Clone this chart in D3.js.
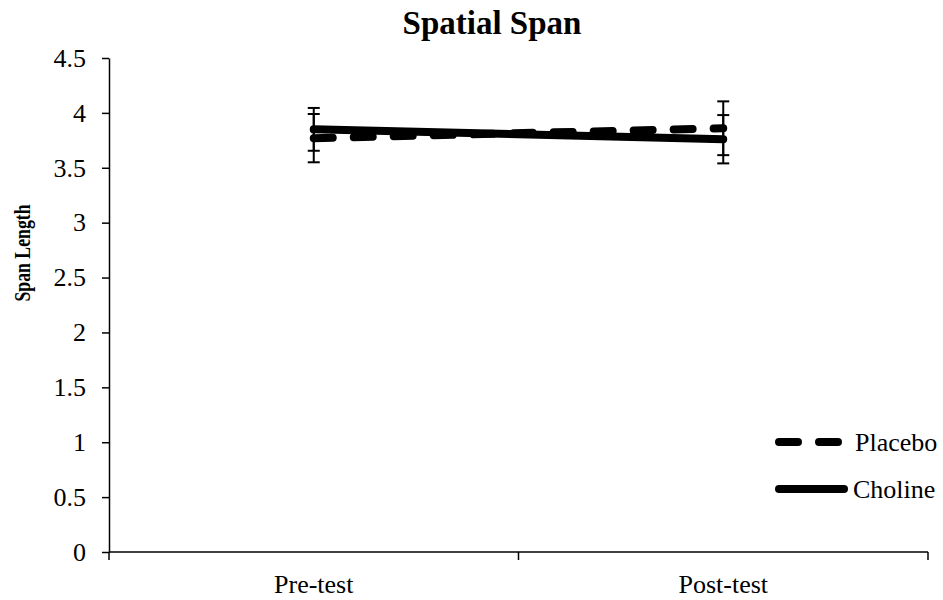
<!DOCTYPE html>
<html>
<head>
<meta charset="utf-8">
<script src="https://cdn.jsdelivr.net/npm/d3@7"></script>
<style>
  html, body { margin: 0; padding: 0; background: #fff; }
  svg { display: block; }
  svg text { font-family: "Liberation Serif", "Times New Roman", Times, serif !important; fill: #000; }
</style>
</head>
<body>
<svg id="chart" width="943" height="600"></svg>
<script>
// Spatial span means (± error) by session and group
const sessions = ["Pre-test", "Post-test"];
const placeboMeans = [3.77, 3.86];
const placeboErr = [0.22, 0.245];
const cholineMeans = [3.85, 3.76];
const cholineErr = [0.195, 0.22];
const yTicks = [0, 0.5, 1, 1.5, 2, 2.5, 3, 3.5, 4, 4.5];

const series = [
  { name: "Placebo", means: placeboMeans, err: placeboErr, dashed: true },
  { name: "Choline", means: cholineMeans, err: cholineErr, dashed: false }
];

const svg = d3.select("#chart");
const plotLeft = 109, plotRight = 928, plotTop = 58, plotBottom = 552;

const y = d3.scaleLinear().domain([0, 4.5]).range([plotBottom, plotTop]);
const xBand = d3.scaleBand().domain(sessions).range([plotLeft, plotRight]);
const x = d3.scalePoint().domain(sessions).range([plotLeft, plotRight]).padding(0.5);

// Title
svg.append("text")
  .attr("x", 492).attr("y", 34)
  .attr("text-anchor", "middle")
  .attr("font-size", 33).attr("font-weight", "bold")
  .text("Spatial Span");

// Y axis
const yAxis = svg.append("g")
  .attr("transform", `translate(${plotLeft},0)`)
  .call(d3.axisLeft(y).tickValues(yTicks).tickFormat(d3.format("")).tickSize(7).tickSizeOuter(0).tickPadding(16));
yAxis.attr("font-family", null).attr("font-size", null);
yAxis.select(".domain").attr("stroke", "#000").attr("stroke-width", 1.5);
yAxis.selectAll(".tick line").attr("stroke", "#000").attr("stroke-width", 1.5);
yAxis.selectAll(".tick text").attr("font-size", 26).attr("fill", "#000");

// Y axis title (set condensed)
svg.append("text")
  .attr("transform", "translate(30,253) rotate(-90)")
  .attr("text-anchor", "middle")
  .attr("font-size", 24).attr("font-weight", "bold")
  .attr("textLength", 97).attr("lengthAdjust", "spacingAndGlyphs")
  .text("Span Length");

// X axis: baseline, category boundary ticks and centred labels
const xg = svg.append("g");
xg.append("line")
  .attr("x1", plotLeft).attr("x2", plotRight)
  .attr("y1", y(0)).attr("y2", y(0))
  .attr("stroke", "#000").attr("stroke-width", 1.5);
const boundaries = sessions.map(s => xBand(s)).concat([xBand.range()[1]]);
xg.selectAll("line.bound").data(boundaries).join("line")
  .attr("class", "bound")
  .attr("x1", d => d).attr("x2", d => d)
  .attr("y1", y(0)).attr("y2", y(0) + 8)
  .attr("stroke", "#000").attr("stroke-width", 1.5);
xg.selectAll("text").data(sessions).join("text")
  .attr("x", d => x(d)).attr("y", 593)
  .attr("text-anchor", "middle")
  .attr("font-size", 26)
  .text(d => d);

// Lines
const line = d3.line().x((d, i) => x(sessions[i])).y(d => y(d));
svg.selectAll("path.series").data(series).join("path")
  .attr("class", "series")
  .attr("d", d => line(d.means))
  .attr("fill", "none")
  .attr("stroke", "#000")
  .attr("stroke-width", 8)
  .attr("stroke-linecap", "round")
  .attr("stroke-dasharray", d => d.dashed ? "19 21" : null);

// Error bars
series.forEach(s => {
  const g = svg.append("g");
  s.means.forEach((m, i) => {
    const cx = x(sessions[i]);
    const lo = y(m - s.err[i]), hi = y(m + s.err[i]);
    g.append("line").attr("x1", cx).attr("x2", cx).attr("y1", hi).attr("y2", lo)
      .attr("stroke", "#000").attr("stroke-width", 2);
    [hi, lo].forEach(yy => g.append("line")
      .attr("x1", cx - 6).attr("x2", cx + 6).attr("y1", yy).attr("y2", yy)
      .attr("stroke", "#000").attr("stroke-width", 2));
  });
});

// Legend
const legendY = [442, 489];
const lg = svg.append("g");
series.forEach((s, i) => {
  lg.append("line")
    .attr("x1", 779).attr("x2", 844)
    .attr("y1", legendY[i]).attr("y2", legendY[i])
    .attr("stroke", "#000").attr("stroke-width", 8)
    .attr("stroke-linecap", "round")
    .attr("stroke-dasharray", s.dashed ? "19 21" : null);
  lg.append("text")
    .attr("x", s.dashed ? 855 : 853).attr("y", legendY[i] + 9)
    .attr("font-size", 26)
    .text(s.name);
});
</script>
</body>
</html>
